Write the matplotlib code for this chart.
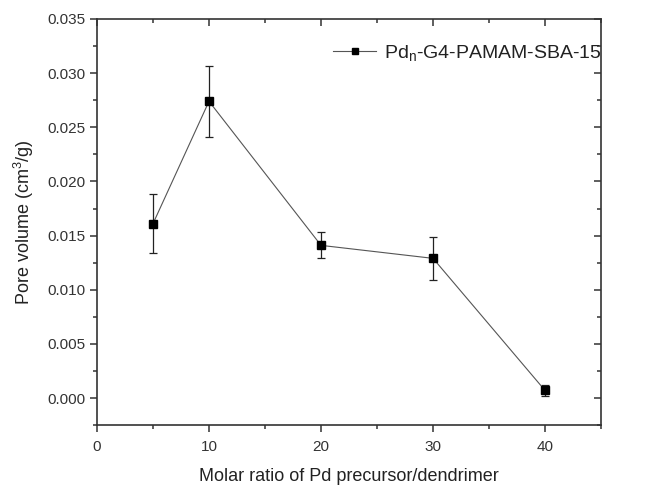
import numpy as np
import matplotlib
matplotlib.use("Agg")
import matplotlib.pyplot as plt
from matplotlib.ticker import MultipleLocator
from matplotlib.lines import Line2D

plt.rcParams['font.family'] = ['Liberation Sans', 'DejaVu Sans']
plt.rcParams['mathtext.default'] = 'regular'

# --- Data ---
ratio = [5, 10, 20, 30, 40]
pore_volume = [0.0161, 0.0274, 0.0141, 0.0129, 0.0007]
pore_err = [0.0027, 0.0033, 0.0012, 0.0020, 0.0005]

fig = plt.figure(figsize=(6.53, 4.87), dpi=100)
ax = fig.add_axes([0.1485, 0.127, 0.772, 0.834])

ax.errorbar(ratio, pore_volume, yerr=pore_err, color='#555555', lw=0.8,
            marker='s', ms=5.5, mfc='black', mec='black',
            ecolor='#222222', elinewidth=0.9, capsize=3, capthick=0.9)

ax.set_xlim(0, 45)
ax.set_ylim(-0.0025, 0.035)
ax.xaxis.set_major_locator(MultipleLocator(10))
ax.xaxis.set_minor_locator(MultipleLocator(5))
ax.yaxis.set_major_locator(MultipleLocator(0.005))
ax.yaxis.set_minor_locator(MultipleLocator(0.0025))
ax.yaxis.set_major_formatter(matplotlib.ticker.FormatStrFormatter('%.3f'))

for s in ax.spines.values():
    s.set_linewidth(1.2)
    s.set_color('#333333')

ax.tick_params(which='both', direction='out', top=False, right=False,
               labelsize=11, colors='#333333', width=1.1)
ax.tick_params(which='major', length=5)
ax.tick_params(which='minor', length=3)
ax.tick_params(axis='x', pad=6)

# mirrored inward ticks on top and right
sec_x = ax.secondary_xaxis('top')
sec_x.xaxis.set_major_locator(MultipleLocator(10))
sec_x.xaxis.set_minor_locator(MultipleLocator(5))
sec_x.tick_params(which='both', direction='in', labeltop=False, width=1.1, colors='#333333')
sec_x.tick_params(which='major', length=5)
sec_x.tick_params(which='minor', length=3)
sec_x.spines['top'].set_visible(False)
sec_y = ax.secondary_yaxis('right')
sec_y.yaxis.set_major_locator(MultipleLocator(0.005))
sec_y.yaxis.set_minor_locator(MultipleLocator(0.0025))
sec_y.tick_params(which='both', direction='in', labelright=False, width=1.1, colors='#333333')
sec_y.tick_params(which='major', length=5)
sec_y.tick_params(which='minor', length=3)
sec_y.spines['right'].set_visible(False)

ax.set_xlabel('Molar ratio of Pd precursor/dendrimer', fontsize=13, color='#222222', labelpad=10)
ax.set_ylabel('Pore volume (cm$^3$/g)', fontsize=13, color='#222222', labelpad=8)

handle = Line2D([], [], color='#555555', lw=0.8, marker='s', ms=5, mfc='black', mec='black')
leg = ax.legend([handle], ['Pd$_{n}$-G4-PAMAM-SBA-15'], loc='upper right', frameon=False,
                fontsize=14, handlelength=2.2, handletextpad=0.4,
                bbox_to_anchor=(1.035, 0.985))
for t in leg.get_texts():
    t.set_color('#222222')

fig.savefig('out.png', dpi=100)
